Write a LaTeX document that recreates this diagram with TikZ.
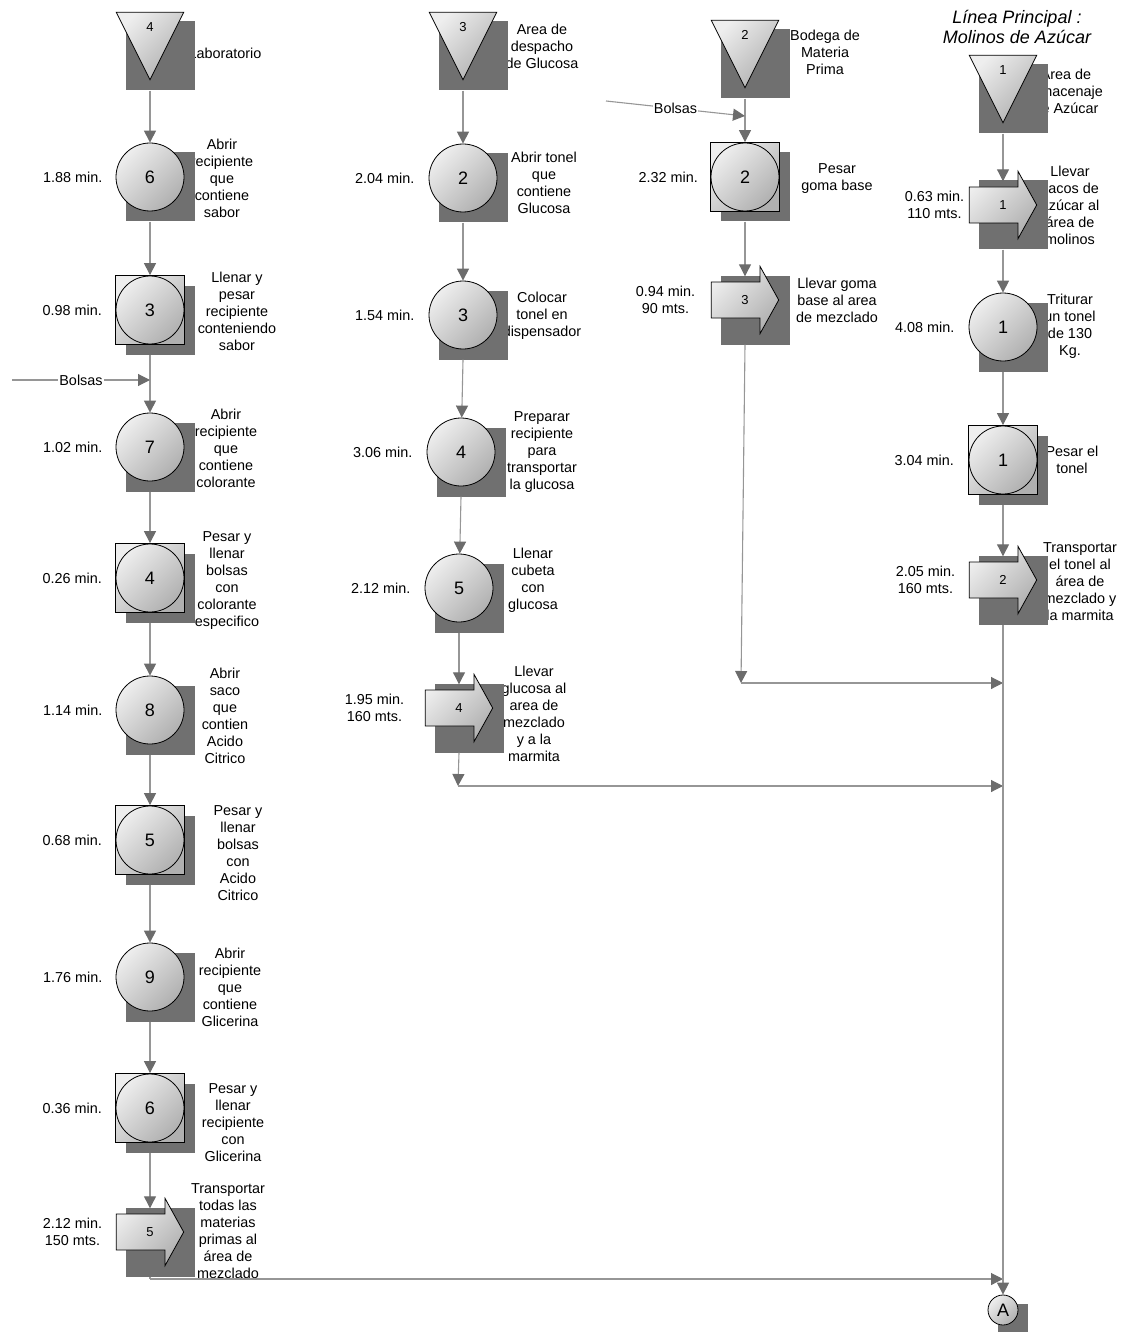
\documentclass[tikz,border=0pt]{standalone}
\usepackage{fontspec}
\setmainfont{Liberation Sans}
\usepackage{tikz}
\usetikzlibrary{arrows.meta,positioning,calc}
\definecolor{dpshadow}{RGB}{112,112,112}
\definecolor{dpline}{RGB}{150,150,150}
\definecolor{dptip}{RGB}{108,108,108}
\definecolor{dplight}{RGB}{238,238,238}
\definecolor{dpdark}{RGB}{176,176,176}
\pgfdeclarelayer{descr}
\pgfdeclarelayer{shade}
\pgfdeclarelayer{sym}
\pgfsetlayers{descr,shade,sym,main}
\tikzset{
  dpfill/.style={top color=dplight, bottom color=dpdark, shading angle=45},
  opsym/.style={circle, draw=black, line width=0.8pt, dpfill, minimum size=68pt,
    inner sep=0pt, font=\fontsize{18}{20}\selectfont},
  insym/.style={rectangle, draw=black, line width=0.8pt, dpfill, minimum size=69pt,
    inner sep=0pt, font=\fontsize{18}{20}\selectfont},
  stsym/.style={rectangle, minimum size=69pt, inner sep=0pt, text height=9pt,
    text depth=37pt, font=\fontsize{13}{15}\selectfont},
  trsym/.style={rectangle, minimum size=69pt, inner sep=0pt, font=\fontsize{13}{15}\selectfont},
  consym/.style={circle, draw=black, line width=0.8pt, dpfill, minimum size=30pt,
    inner sep=0pt, font=\fontsize{18}{20}\selectfont},
  symline/.style={dpfill, draw=black, line width=0.8pt},
  shadowsq/.style={fill=dpshadow, minimum size=69pt, inner sep=0pt},
  tlabel/.style={align=center, inner sep=0pt, font=\fontsize{14.4}{17}\selectfont},
  dlabel/.style={align=center, inner sep=0pt, font=\fontsize{14.4}{17}\selectfont},
  bolsa/.style={fill=white, inner sep=1pt, font=\fontsize{14.4}{17}\selectfont},
  flow/.style={draw=dpline, line width=1.1pt, -{Triangle[length=12pt,width=12pt,color=dptip]}},
  plain/.style={draw=dpline, line width=1.1pt}
}

\begin{document}
\begin{tikzpicture}[x=1pt, y=-1pt]
  \useasboundingbox (0,0) rectangle (1120,1332);

  % column 1: laboratorio
  \node[stsym] (st4) at (150,46) {4};
  \node[opsym] (o6) at (150,177) {6};
  \node[insym] (i3) at (150,310) {3};
  \node[opsym] (o7) at (150,447) {7};
  \node[insym] (i4) at (150,578) {4};
  \node[opsym] (o8) at (150,710) {8};
  \node[insym] (i5) at (150,840) {5};
  \node[opsym] (o9) at (150,977) {9};
  \node[insym] (i6) at (150,1108) {6};
  \node[trsym] (t5) at (150,1232) {5};

  % column 2: glucosa
  \node[stsym] (st3) at (463,46) {3};
  \node[opsym] (o2) at (463,178) {2};
  \node[opsym] (o3) at (463,315) {3};
  \node[opsym] (o4) at (461,452) {4};
  \node[opsym] (o5) at (459,588) {5};
  \node[trsym] (t4) at (459,708) {4};

  % column 3: goma base
  \node[stsym] (st2) at (745,54) {2};
  \node[insym] (i2) at (745,177) {2};
  \node[trsym] (t3) at (745,300) {3};

  % column 4: linea principal
  \node[stsym] (st1) at (1003,89) {1};
  \node[trsym] (t1) at (1003,205) {1};
  \node[opsym] (o1) at (1003,327) {1};
  \node[insym] (i1) at (1003,460) {1};
  \node[trsym] (t2) at (1003,580) {2};
  \node[consym] (A) at (1003,1310) {A};

  \node[font=\fontsize{18}{20.5}\selectfont\itshape, align=center] (title) at (1017,27)
    {Línea Principal :\\Molinos de Azúcar};

  % circles of the combined activities
  \foreach \s in {i3,i4,i5,i6,i2,i1}
    \draw[line width=0.8pt] (\s.center) circle[radius=34pt];

  % triangles and arrows under the numbers
  \begin{pgfonlayer}{sym}
    \foreach \s in {st4,st3,st2,st1}
      \shadedraw[symline] ($(\s.north west)+(1,1)$) -- ($(\s.north east)+(-1,1)$)
        -- ($(\s.south)+(0,-1)$) -- cycle;
    \foreach \s in {t5,t4,t3,t1,t2}
      \shadedraw[symline] ($(\s.west)+(1,-18)$) -- ($(\s.center)+(15,-18)$)
        -- ($(\s.north)+(15,1)$) -- ($(\s.east)+(-1,0)$) -- ($(\s.south)+(15,-1)$)
        -- ($(\s.center)+(15,18)$) -- ($(\s.west)+(1,18)$) -- cycle;
  \end{pgfonlayer}

  % shadows
  \begin{pgfonlayer}{shade}
    \foreach \s in {st4,o6,i3,o7,i4,o8,i5,o9,i6,t5,st3,o2,o3,o4,o5,t4,st2,i2,t3,st1,t1,o1,i1,t2}
      \node[shadowsq] (s-\s) at ($(\s)+(10,10)$) {};
    \node[shadowsq, minimum size=30pt] (s-A) at ($(A)+(10,9)$) {};
  \end{pgfonlayer}

  % descriptions
  \begin{pgfonlayer}{descr}
    \node[dlabel] (d-st4) at (225,53) {Laboratorio};
    \node[dlabel] (d-o6) at (222,178) {Abrir\\recipiente\\que\\contiene\\sabor};
    \node[dlabel] (d-i3) at (237,311) {Llenar y\\pesar\\recipiente\\conteniendo\\sabor};
    \node[dlabel] (d-o7) at (226,448) {Abrir\\recipiente\\que\\contiene\\colorante};
    \node[dlabel] (d-i4) at (227,581) {Pesar y\\llenar\\bolsas\\con\\colorante\\especifico};
    \node[dlabel] (d-o8) at (225,716) {Abrir\\saco\\que\\contien\\Acido\\Citrico};
    \node[dlabel] (d-i5) at (238,853) {Pesar y\\llenar\\bolsas\\con\\Acido\\Citrico};
    \node[dlabel] (d-o9) at (230,987) {Abrir\\recipiente\\que\\contiene\\Glicerina};
    \node[dlabel] (d-i6) at (233,1123) {Pesar y\\llenar\\recipiente\\con\\Glicerina};
    \node[dlabel] (d-t5) at (228,1231) {Transportar\\todas las\\materias\\primas al\\área de\\mezclado};
    \node[dlabel] (d-st3) at (542,46) {Area de\\despacho\\de Glucosa};
    \node[dlabel] (d-o2) at (544,183) {Abrir tonel\\que\\contiene\\Glucosa};
    \node[dlabel] (d-o3) at (542,316) {Colocar\\tonel en\\dispensador};
    \node[dlabel] (d-o4) at (542,452) {Preparar\\recipiente\\para\\transportar\\la glucosa};
    \node[dlabel] (d-o5) at (533,580) {Llenar\\cubeta\\con\\glucosa};
    \node[dlabel] (d-t4) at (534,714) {Llevar\\glucosa al\\area de\\mezclado\\y a la\\marmita};
    \node[dlabel] (d-st2) at (825,52) {Bodega de\\Materia\\Prima};
    \node[dlabel] (d-i2) at (837,179) {Pesar\\goma base};
    \node[dlabel] (d-t3) at (837,300) {Llevar goma\\base al area\\de mezclado};
    \node[dlabel] (d-st1) at (1066,90) {Área de\\almacenaje\\de Azúcar};
    \node[dlabel] (d-t1) at (1070,205) {Llevar\\sacos de\\azúcar al\\área de\\molinos};
    \node[dlabel] (d-o1) at (1070,326) {Triturar\\un tonel\\de 130\\Kg.};
    \node[dlabel] (d-i1) at (1072,460) {Pesar el\\tonel};
    \node[dlabel] (d-t2) at (1080,582) {Transportar\\el tonel al\\área de\\mezclado y\\la marmita};
  \end{pgfonlayer}

  % times
  \node[tlabel, left=13pt of o6] (m-o6) {1.88 min.};
  \node[tlabel, left=13pt of i3] (m-i3) {0.98 min.};
  \node[tlabel, left=13pt of o7] (m-o7) {1.02 min.};
  \node[tlabel, left=13pt of i4] (m-i4) {0.26 min.};
  \node[tlabel, left=13pt of o8] (m-o8) {1.14 min.};
  \node[tlabel, left=13pt of i5] (m-i5) {0.68 min.};
  \node[tlabel, left=13pt of o9] (m-o9) {1.76 min.};
  \node[tlabel, left=13pt of i6] (m-i6) {0.36 min.};
  \node[tlabel, left=13pt of t5] (m-t5) {2.12 min.\\150 mts.};
  \node[tlabel, left=14pt of o2] (m-o2) {2.04 min.};
  \node[tlabel, left=14pt of o3] (m-o3) {1.54 min.};
  \node[tlabel, left=14pt of o4] (m-o4) {3.06 min.};
  \node[tlabel, left=14pt of o5] (m-o5) {2.12 min.};
  \node[tlabel, left=20pt of t4] (m-t4) {1.95 min.\\160 mts.};
  \node[tlabel, left=12pt of i2] (m-i2) {2.32 min.};
  \node[tlabel, left=15pt of t3] (m-t3) {0.94 min.\\90 mts.};
  \node[tlabel, left=4pt of t1] (m-t1) {0.63 min.\\110 mts.};
  \node[tlabel, left=14pt of o1] (m-o1) {4.08 min.};
  \node[tlabel, left=14pt of i1] (m-i1) {3.04 min.};
  \node[tlabel, left=13pt of t2] (m-t2) {2.05 min.\\160 mts.};

  % junctions
  \coordinate (j1) at (150,1279);
  \coordinate (j2) at (458,786);
  \coordinate (j3) at (741,683);
  \coordinate (b1a) at (12,380);
  \coordinate (b3a) at (606,101);
  \coordinate (b3b) at (i2 |- 0,116);

  % flow column 1
  \draw[flow] (st4 |- s-st4.south) -- (o6);
  \draw[flow] (o6 |- s-o6.south) -- (i3);
  \draw[flow] (i3 |- s-i3.south) -- (o7);
  \draw[flow] (o7 |- s-o7.south) -- (i4);
  \draw[flow] (i4 |- s-i4.south) -- (o8);
  \draw[flow] (o8 |- s-o8.south) -- (i5);
  \draw[flow] (i5 |- s-i5.south) -- (o9);
  \draw[flow] (o9 |- s-o9.south) -- (i6);
  \draw[flow] (i6 |- s-i6.south) -- ([yshift=-11pt]t5.north);
  \draw[plain] (t5 |- s-t5.south) -- (j1);
  \draw[flow] (j1) -- (j1 -| A);
  \draw[flow] (b1a) -- (b1a -| o7) node[bolsa, midway] (bl1) {Bolsas};

  % flow column 2
  \draw[flow] (st3 |- s-st3.south) -- (o2);
  \draw[flow] (o2 |- s-o2.south) -- (o3);
  \draw[flow] (o3 |- s-o3.south) -- (o4);
  \draw[flow] (o4 |- s-o4.south) -- (o5);
  \draw[flow] (o5 |- s-o5.south) -- ([yshift=-11pt]t4.north);
  \draw[flow] (t4 |- s-t4.south) -- (j2);
  \draw[flow] (j2) -- (j2 -| A);

  % flow column 3
  \draw[flow] (st2 |- s-st2.south) -- (i2);
  \draw[flow] (i2 |- s-i2.south) -- ([yshift=-11pt]t3.north);
  \draw[flow] (t3 |- s-t3.south) -- (j3);
  \draw[flow] (j3) -- (j3 -| A);
  \draw[flow] (b3a) -- (b3b) node[bolsa, midway] (bl3) {Bolsas};

  % flow column 4
  \draw[flow] (st1 |- s-st1.south) -- ([yshift=-11pt]t1.north);
  \draw[flow] (t1 |- s-t1.south) -- (o1);
  \draw[flow] (o1 |- s-o1.south) -- (i1);
  \draw[flow] (i1 |- s-i1.south) -- ([yshift=-11pt]t2.north);
  \draw[flow] (t2 |- s-t2.south) -- (A);
\end{tikzpicture}
\end{document}
